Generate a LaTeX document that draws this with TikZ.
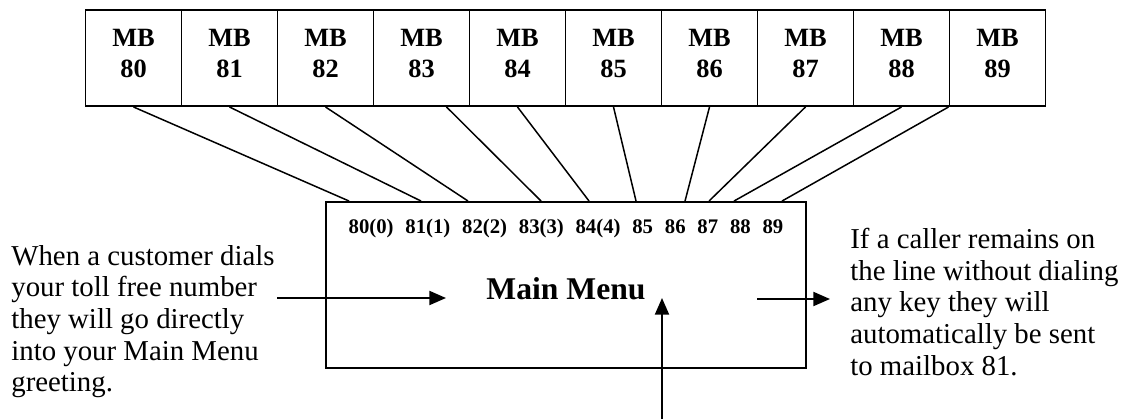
\documentclass[tikz,border=0pt]{standalone}
\usepackage{fontspec}
\setmainfont{Liberation Serif}
\usetikzlibrary{arrows.meta,calc}
\newcommand{\mbdrop}{\rule[-5.7pt]{0pt}{0pt}}

\begin{document}
\begin{tikzpicture}[x=0.2mm,y=-0.2mm,>={Triangle[length=9.5pt,width=8pt]},
  mbbox/.style={draw,line width=1.1pt,minimum width=19.2mm,minimum height=19.2mm,
    align=center,font=\bfseries\fontsize{15}{17.6}\selectfont},
  menubox/.style={draw,line width=1.1pt,minimum width=96mm,minimum height=33.2mm},
  note/.style={align=left,inner sep=0pt,anchor=north west,font=\fontsize{16.4}{18}\selectfont},
  wire/.style={line width=0.85pt},
  flow/.style={->,line width=1.1pt}]
\useasboundingbox (0,0) rectangle (1127,419);
\node[mbbox] (mb80) at (133.5,58) {MB\\80\mbdrop};
\node[mbbox] (mb81) at (229.5,58) {MB\\81\mbdrop};
\node[mbbox] (mb82) at (325.5,58) {MB\\82\mbdrop};
\node[mbbox] (mb83) at (421.5,58) {MB\\83\mbdrop};
\node[mbbox] (mb84) at (517.5,58) {MB\\84\mbdrop};
\node[mbbox] (mb85) at (613.5,58) {MB\\85\mbdrop};
\node[mbbox] (mb86) at (709.5,58) {MB\\86\mbdrop};
\node[mbbox] (mb87) at (805.5,58) {MB\\87\mbdrop};
\node[mbbox] (mb88) at (901.5,58) {MB\\88\mbdrop};
\node[mbbox] (mb89) at (997.5,58) {MB\\89\mbdrop};
\node[menubox] (menu) at (566,285) {};
\node[anchor=base,font=\bfseries\fontsize{11.8}{14}\selectfont] (keys) at (566,233)
  {80(0)\hspace{.57em}81(1)\hspace{.57em}82(2)\hspace{.57em}83(3)\hspace{.57em}84(4)\hspace{.57em}85\hspace{.57em}86\hspace{.57em}87\hspace{.57em}88\hspace{.57em}89};
\node[anchor=base,font=\bfseries\fontsize{18}{21}\selectfont] (title) at (566,299) {Main Menu};
\node[note] (callin) at (11,245) {When a customer dials\\your toll free number\\they will go directly\\into your Main Menu\\greeting.};
\node[note] (timeout) at (850,228) {If a caller remains on\\the line without dialing\\any key they will\\automatically be sent\\to mailbox 81.};
\coordinate (intail) at (277,298);
\coordinate (inhead) at (446,298);
\coordinate (outtail) at (757,299);
\coordinate (outhead) at (830,299);
\coordinate (uptail) at (662,419);
\coordinate (uphead) at (662,298);
\draw[wire] (mb80.south) -- ($(menu.north west)+(24,0)$);
\draw[wire] (mb81.south) -- ($(menu.north west)+(96,0)$);
\draw[wire] (mb82.south) -- ($(menu.north west)+(143,0)$);
\draw[wire] ($(mb83.south)+(25,0)$) -- ($(menu.north west)+(216,0)$);
\draw[wire] (mb84.south) -- ($(menu.north west)+(264,0)$);
\draw[wire] (mb85.south) -- ($(menu.north west)+(311,0)$);
\draw[wire] (mb86.south) -- ($(menu.north west)+(360,0)$);
\draw[wire] (mb87.south) -- ($(menu.north west)+(384,0)$);
\draw[wire] (mb88.south) -- ($(menu.north west)+(409,0)$);
\draw[wire] (mb89.south west) -- ($(menu.north west)+(457,0)$);
\draw[flow] (intail) -- (inhead);
\draw[flow] (outtail) -- (outhead);
\draw[flow] (uptail) -- (uphead);
\end{tikzpicture}
\end{document}
